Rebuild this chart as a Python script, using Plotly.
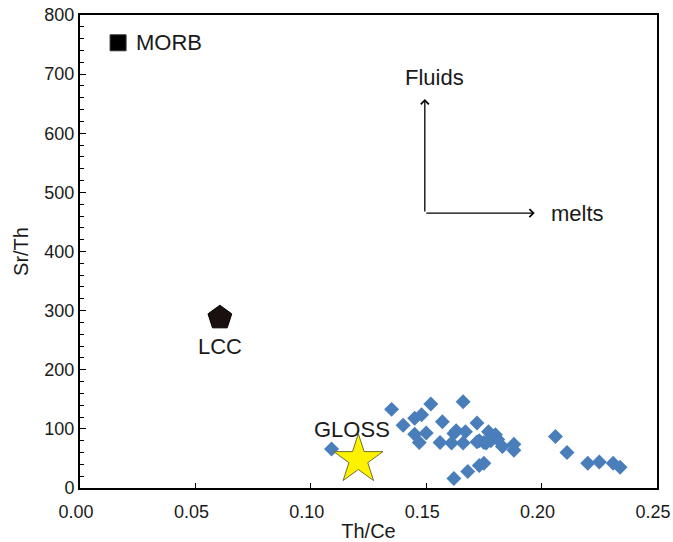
import plotly.graph_objects as go

# Sample data (Th/Ce, Sr/Th)
sample_thce = [0.109, 0.135, 0.140, 0.145, 0.148, 0.152, 0.145, 0.150, 0.147, 0.156,
               0.157, 0.166, 0.162, 0.163, 0.167, 0.161, 0.166, 0.172, 0.172, 0.175,
               0.176, 0.177, 0.180, 0.181, 0.183, 0.188, 0.188, 0.162, 0.168, 0.173,
               0.175, 0.206, 0.211, 0.220, 0.225, 0.231, 0.234, 0.178, 0.173]
sample_srth = [66, 133, 106, 118, 124, 142, 91, 93, 77, 77,
               112, 146, 92, 97, 95, 76, 76, 110, 78, 77,
               76, 95, 90, 82, 70, 74, 64, 16, 28, 38,
               42, 87, 60, 42, 44, 42, 35, 80, 80]

# Reference end-members
morb = (0.0165, 753)
lcc = (0.0606, 288)
gloss = (0.1206, 48)

FONT = "Arial, Liberation Sans, sans-serif"
INK = "#1a1a1a"

fig = go.Figure()
fig.add_trace(go.Scatter(x=sample_thce, y=sample_srth, mode="markers",
                         marker=dict(symbol="diamond", size=11.5, color="#4A7EBB"),
                         showlegend=False))
fig.add_trace(go.Scatter(x=[morb[0]], y=[morb[1]], mode="markers",
                         marker=dict(symbol="square", size=16, color="black",
                                     line=dict(color="#333333", width=1)),
                         showlegend=False))
fig.add_trace(go.Scatter(x=[lcc[0]], y=[lcc[1]], mode="markers",
                         marker=dict(symbol="pentagon", size=25, color="#1a1010",
                                     line=dict(color="black", width=1)),
                         showlegend=False))
fig.add_trace(go.Scatter(x=[gloss[0]], y=[gloss[1]], mode="markers",
                         marker=dict(symbol="star", size=37, color="#FFF200",
                                     line=dict(color="#707030", width=1)),
                         showlegend=False))

txt = dict(family=FONT, size=22, color=INK)
fig.add_annotation(x=morb[0], y=morb[1], text="MORB", showarrow=False,
                   xanchor="left", xshift=16, font=txt)
fig.add_annotation(x=lcc[0], y=lcc[1], text="LCC", showarrow=False,
                   yshift=-29, font=txt)
fig.add_annotation(x=gloss[0], y=gloss[1], text="GLOSS", showarrow=False,
                   xshift=-6, yshift=30, font=txt)

# Process arrows
ox, oy = 0.1494, 465
fig.add_annotation(x=ox, y=658, ax=ox, ay=oy, axref="x", ayref="y",
                   xref="x", yref="y", showarrow=True, arrowhead=4,
                   arrowsize=1.2, arrowwidth=1.3, arrowcolor="black", text="")
fig.add_annotation(x=0.197, y=oy, ax=ox, ay=oy, axref="x", ayref="y",
                   xref="x", yref="y", showarrow=True, arrowhead=4,
                   arrowsize=1.2, arrowwidth=1.3, arrowcolor="black", text="")
fig.add_annotation(x=0.1398, y=695, text="Fluids", showarrow=False,
                   xanchor="left", font=txt)
fig.add_annotation(x=0.2030, y=465, text="melts", showarrow=False,
                   xanchor="left", font=txt)

fig.update_xaxes(range=[0, 0.25], tickvals=[0, 0.05, 0.10, 0.15, 0.20, 0.25],
                 tickformat=".2f", ticks="inside", ticklen=5, tickcolor="black",
                 showline=True, linecolor="black", linewidth=2, mirror=True,
                 showgrid=False, zeroline=False, automargin=False,
                 ticklabelshift=-4, ticklabelstandoff=6, ticklabeloverflow="allow",
                 tickfont=dict(family=FONT, size=18, color=INK),
                 title=dict(text="Th/Ce", font=dict(family=FONT, size=20, color=INK),
                            standoff=4))
fig.update_yaxes(range=[0, 800], dtick=100, ticks="inside", ticklen=6, tickcolor="black",
                 minor=dict(dtick=20, ticks="inside", ticklen=4, tickcolor="black"),
                 showline=True, linecolor="black", linewidth=2, mirror=True,
                 showgrid=False, zeroline=False, automargin=False,
                 tickfont=dict(family=FONT, size=18, color=INK),
                 title=dict(text="Sr/Th", font=dict(family=FONT, size=20, color=INK),
                            standoff=10))

fig.update_layout(width=673, height=542, margin=dict(l=80, r=16, t=15, b=54),
                  plot_bgcolor="white", paper_bgcolor="white")

fig.write_html("out.html")
